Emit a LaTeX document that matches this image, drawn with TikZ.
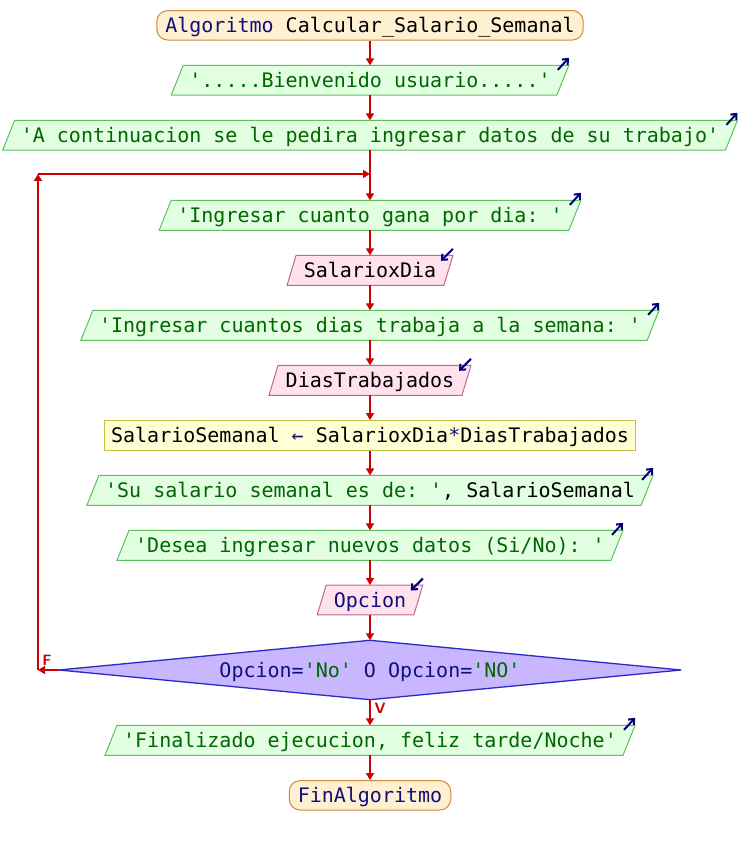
\documentclass[tikz,border=0pt]{standalone}
\usepackage{fontspec}
\setmonofont{DejaVu Sans Mono}
\usetikzlibrary{arrows.meta,calc,backgrounds}
\definecolor{termfill}{HTML}{FFF0D2}
\definecolor{termline}{HTML}{CC8A3A}
\definecolor{outfill}{HTML}{E2FFE2}
\definecolor{outline}{HTML}{5CC05C}
\definecolor{infill}{HTML}{FFE2EE}
\definecolor{inline}{HTML}{C0688A}
\definecolor{asgfill}{HTML}{FFFFD6}
\definecolor{asgline}{HTML}{C8C040}
\definecolor{decfill}{HTML}{C8B6FF}
\definecolor{decline}{HTML}{2A2AC8}
\definecolor{flowred}{HTML}{CC0000}
\definecolor{kw}{HTML}{10107A}
\definecolor{str}{HTML}{006600}
\definecolor{iconcol}{HTML}{00007A}
\begin{document}
\begin{tikzpicture}[x=1pt,y=-1pt,
  txt/.style={font=\fontsize{20}{24}\selectfont\ttfamily, text height=17pt, text depth=2.4pt,
    minimum height=29.5pt, inner ysep=0pt, inner xsep=12pt},
  termbox/.style={txt, draw=termline, fill=termfill, line width=1pt, rounded corners=11pt, inner xsep=8.5pt},
  asgbox/.style={txt, draw=asgline, fill=asgfill, line width=1pt, inner xsep=7pt},
  outpara/.style={draw=outline, fill=outfill, line width=1pt},
  inpara/.style={draw=inline, fill=infill, line width=1pt},
  decshape/.style={draw=decline, fill=decfill, line width=1.3pt},
  flow/.style={draw=flowred, line width=1.6pt, -{Triangle[length=7pt,width=8pt]}},
  iconarrow/.style={draw=iconcol, line width=2pt, -{Straight Barb[length=4.5pt,width=8pt]}},
  lbl/.style={text=flowred, font=\fontsize{15}{17}\selectfont\sffamily\bfseries, inner sep=0pt}
]
\useasboundingbox (0,0) rectangle (740,845);

\node[termbox] (s) at (370,25.3) {{\color{kw}Algoritmo} Calcular\_Salario\_Semanal};
\node[txt] (o1) at (370,80.3) {\color{str}'.....Bienvenido usuario.....'};
\node[txt] (o2) at (370,135.3) {\color{str}'A continuacion se le pedira ingresar datos de su trabajo'};
\node[txt] (o3) at (370,215.3) {\color{str}'Ingresar cuanto gana por dia: '};
\node[txt] (i1) at (370,270.3) {SalarioxDia};
\node[txt] (o4) at (370,325.3) {\color{str}'Ingresar cuantos dias trabaja a la semana: '};
\node[txt] (i2) at (370,380.3) {DiasTrabajados};
\node[asgbox] (a) at (370,435.3) {SalarioSemanal {\color{kw}←} SalarioxDia{\color{kw}*}DiasTrabajados};
\node[txt] (o5) at (370,490.3) {{\color{str}'Su salario semanal es de: '}, SalarioSemanal};
\node[txt] (o6) at (370,545.3) {\color{str}'Desea ingresar nuevos datos (Si/No): '};
\node[txt] (i3) at (370,600) {\color{kw}Opcion};
\node[txt, minimum width=622pt, minimum height=59pt] (d) at (370,670)
  {\color{kw}Opcion={\color{str}'No'} O Opcion={\color{str}'NO'}};
\node[txt] (o7) at (370,740.3) {\color{str}'Finalizado ejecucion, feliz tarde/Noche'};
\node[termbox] (e) at (370,795.3) {\color{kw}FinAlgoritmo};

\begin{scope}[on background layer]
  \foreach \n in {o1,o2,o3,o4,o5,o6,o7}
    \draw[outpara] ($(\n.south west)+(-6,0)$) -- ($(\n.north west)+(6,0)$)
      -- ($(\n.north east)+(6,0)$) -- ($(\n.south east)+(-6,0)$) -- cycle;
  \foreach \n in {i1,i2,i3}
    \draw[inpara] ($(\n.south west)+(-4.5,0)$) -- ($(\n.north west)+(4.5,0)$)
      -- ($(\n.north east)+(4.5,0)$) -- ($(\n.south east)+(-4.5,0)$) -- cycle;
  \draw[decshape] (d.north) -- (d.east) -- (d.south) -- (d.west) -- cycle;
\end{scope}

\foreach \n in {o1,o2,o3,o4,o5,o6,o7}
  \draw[iconarrow] ($(\n.north east)+(-5,4.5)$) -- ($(\n.north east)+(6,-7.5)$);
\foreach \n in {i1,i2,i3}
  \draw[iconarrow] ($(\n.north east)+(4.5,-6.5)$) -- ($(\n.north east)+(-7.5,5.5)$);

\draw[flow] (s.south) -- (o1.north);
\draw[flow] (o1.south) -- (o2.north);
\draw[flow] (o2.south) -- (o3.north);
\draw[flow] (o3.south) -- (i1.north);
\draw[flow] (i1.south) -- (o4.north);
\draw[flow] (o4.south) -- (i2.north);
\draw[flow] (i2.south) -- (a.north);
\draw[flow] (a.south) -- (o5.north);
\draw[flow] (o5.south) -- (o6.north);
\draw[flow] (o6.south) -- (i3.north);
\draw[flow] (i3.south) -- (d.north);
\draw[flow] (d.south) -- (o7.north);
\draw[flow] (o7.south) -- (e.north);

\coordinate (lp) at (38,670);
\coordinate (lt) at (38,174);
\coordinate (lj) at (370,174);
\draw[flow] (d.west) -- (lp);
\draw[flow] (lp) -- (lt);
\draw[flow] (lt) -- (lj);

\node[lbl] (fl) at (47,660) {F};
\node[lbl] (vl) at (380,708) {V};
\end{tikzpicture}
\end{document}
